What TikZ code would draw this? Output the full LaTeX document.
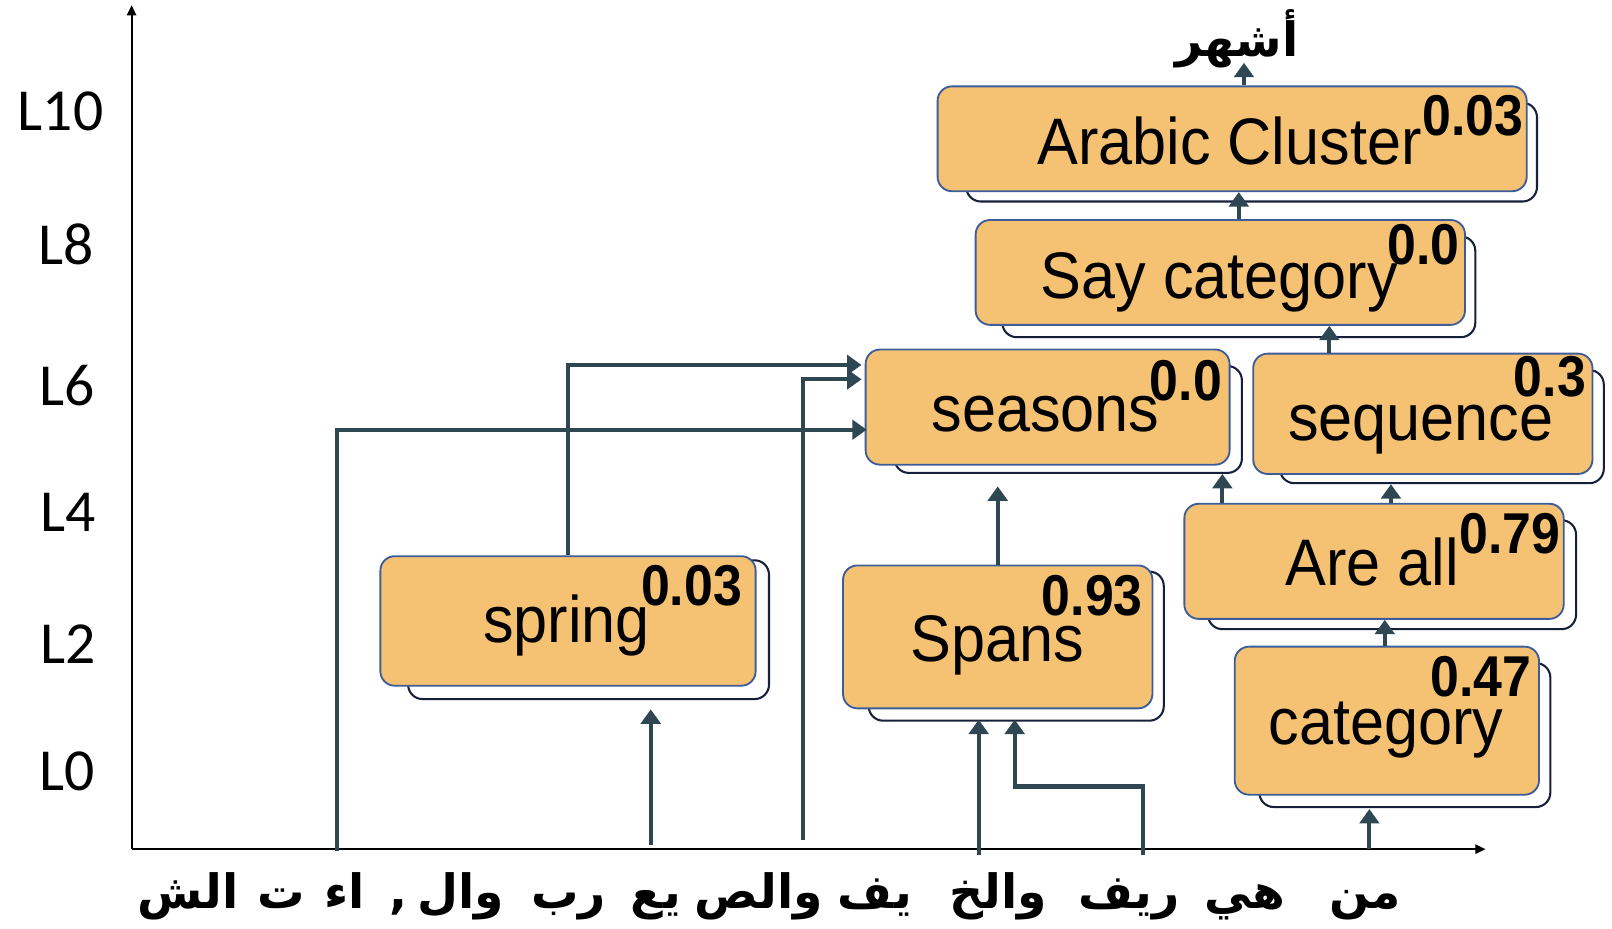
\documentclass[tikz,border=0pt]{standalone}
\usepackage{fontspec}
\setmainfont{Liberation Sans}
\newfontfamily\lblfont[FakeStretch=0.93]{Liberation Sans}
\newfontfamily\numfont[FakeStretch=0.9]{Liberation Sans}
\newfontfamily\lvlfont{Carlito}
\newfontfamily\arabicfont[Script=Arabic]{DejaVu Sans}
\TeXXeTstate=1
\usetikzlibrary{arrows.meta,fit,calc}
\definecolor{boxfill}{HTML}{F4C272}
\definecolor{boxline}{HTML}{3E5C9A}
\definecolor{shadowline}{HTML}{16203A}
\definecolor{connc}{HTML}{2E4753}
\tikzset{
  featbox/.style={draw=boxline, line width=0.9pt, fill=boxfill, rounded corners=7pt, inner sep=0pt},
  shadowbox/.style={draw=shadowline, line width=1pt, fill=white, rounded corners=7pt, inner sep=0pt},
  lbl/.style={font=\lblfont\fontsize{32}{36}\selectfont, inner sep=0pt, anchor=base},
  num/.style={font=\numfont\bfseries\fontsize{28}{32}\selectfont, inner sep=0pt, anchor=base east},
  lvl/.style={font=\lvlfont\fontsize{29}{34}\selectfont, inner sep=0pt, anchor=base},
  tok/.style={font=\arabicfont\bfseries\fontsize{23}{28}\selectfont, inner sep=0pt, anchor=base},
  conn/.style={draw=connc, line width=2pt, -{Triangle[length=7pt,width=9.5pt]}},
  axisarrow/.style={draw=black, line width=1pt, -{Triangle[length=5pt,width=4.5pt]}}
}
\begin{document}
\begin{tikzpicture}[x=0.5pt,y=-0.5pt]
\useasboundingbox (0,0) rectangle (1568,903);

% axes
\coordinate (origin) at (128,826);
\coordinate (xend) at (1445,826);
\coordinate (yend) at (128,5);
\draw[axisarrow] (origin) -- (xend);
\draw[axisarrow] (origin) -- (yend);

% level labels
\node[lvl] (l10) at (59,127) {L10};
\node[lvl] (l8) at (64,257) {L8};
\node[lvl] (l6) at (65,394) {L6};
\node[lvl] (l4) at (66,517) {L4};
\node[lvl] (l2) at (66,645) {L2};
\node[lvl] (l0) at (65,769) {L0};

% shadows
\node[shadowbox, fit={(940,100) (1495,196)}] (acS) {};
\node[shadowbox, fit={(975,230) (1435,328)}] (sayS) {};
\node[shadowbox, fit={(870,356) (1208,460)}] (seaS) {};
\node[shadowbox, fit={(1245,360) (1560,470)}] (seqS) {};
\node[shadowbox, fit={(1175,506) (1533,612)}] (areS) {};
\node[shadowbox, fit={(397,545) (748,680)}] (sprS) {};
\node[shadowbox, fit={(845,556) (1132,701)}] (spaS) {};
\node[shadowbox, fit={(1225,645) (1508,785)}] (catS) {};

% boxes
\node[featbox, fit={(912,84) (1485,186)}] (ac) {};
\node[featbox, fit={(949,214) (1425,316)}] (say) {};
\node[featbox, fit={(842,340) (1196,452)}] (sea) {};
\node[featbox, fit={(1219,344) (1549,461)}] (seq) {};
\node[featbox, fit={(1152,490) (1521,602)}] (are) {};
\node[featbox, fit={(370,541) (735,667)}] (spr) {};
\node[featbox, fit={(820,550) (1121,689)}] (spa) {};
\node[featbox, fit={(1201,629) (1497,773)}] (cat) {};

% labels
\node[lbl] (acL) at (1196,160) {Arabic Cluster};
\node[lbl] (sayL) at (1186,290) {Say category};
\node[lbl] (seaL) at (1017,420) {seasons};
\node[lbl] (seqL) at (1382,428) {sequence};
\node[lbl] (areL) at (1335,570) {Are all};
\node[lbl] (sprL) at (551,625) {spring};
\node[lbl] (spaL) at (970,643) {Spans};
\node[lbl] (catL) at (1348,724) {category};

% numbers
\node[num] (acN) at (1482,132) {0.03};
\node[num] (sayN) at (1420,257) {0.0};
\node[num] (seaN) at (1189,390) {0.0};
\node[num] (seqN) at (1543,386) {0.3};
\node[num] (areN) at (1518,538) {0.79};
\node[num] (sprN) at (722,589) {0.03};
\node[num] (spaN) at (1112,599) {0.93};
\node[num] (catN) at (1490,677) {0.47};

% output token
\node[tok, anchor=center] (out) at (1203,38) {\beginR أشهر\endR};

% input tokens
\node[tok] (t1) at (183,884) {\beginR الش\endR};
\node[tok] (t2) at (274,884) {\beginR ت\endR};
\node[tok] (t3) at (335,884) {\beginR اء\endR};
\node[tok] (t4) at (388,884) {,};
\node[tok] (t5) at (448,884) {\beginR وال\endR};
\node[tok] (t6) at (553,884) {\beginR رب\endR};
\node[tok] (t7) at (638,884) {\beginR يع\endR};
\node[tok] (t8) at (738,884) {\beginR والص\endR};
\node[tok] (t9) at (851,884) {\beginR يف\endR};
\node[tok] (t10) at (971,884) {\beginR والخ\endR};
\node[tok] (t11) at (1098,884) {\beginR ريف\endR};
\node[tok] (t12) at (1211,884) {\beginR هي\endR};
\node[tok] (t13) at (1328,884) {\beginR من\endR};

% connector anchor points
\coordinate (k1) at (328,828);
\coordinate (k2) at (633,822);
\coordinate (k3) at (781,817);
\coordinate (k4) at (952,832);
\coordinate (k5) at (1112,832);
\coordinate (k5b) at (987,765);
\coordinate (k6) at (1332,826);
\coordinate (sin1) at (843,418);
\coordinate (sin2) at (838,369);
\coordinate (sin3) at (838,355);
\coordinate (xt) at (1210,0);
\coordinate (xsay) at (1205,0);
\coordinate (xseq) at (1293,0);
\coordinate (xa1) at (1189,0);
\coordinate (xa2) at (1353,0);
\coordinate (xcat) at (1347,0);

% connectors
\draw[conn] (ac.north -| xt) -- ++(0,-22);
\draw[conn] (say.north -| xsay) -- (ac.south -| xsay);
\draw[conn] (seq.north -| xseq) -- (say.south -| xseq);
\draw[conn] (are.north -| xa1) -- (seaS.south -| xa1);
\draw[conn] (are.north -| xa2) -- (seqS.south -| xa2);
\draw[conn] (cat.north -| xcat) -- (are.south -| xcat);
\draw[conn] (spa.north) -- ++(0,-76);
\draw[conn] (spr.north) |- (sin3);
\draw[conn] (k3) |- (sin2);
\draw[conn] (k1) |- (sin1);
\draw[conn] (k2) -- ++(0,-132);
\draw[conn] (k4) -- ++(0,-132);
\draw[conn] (k5) |- (k5b) -- ++(0,-65);
\draw[conn] (k6) -- ++(0,-39);
\end{tikzpicture}
\end{document}
